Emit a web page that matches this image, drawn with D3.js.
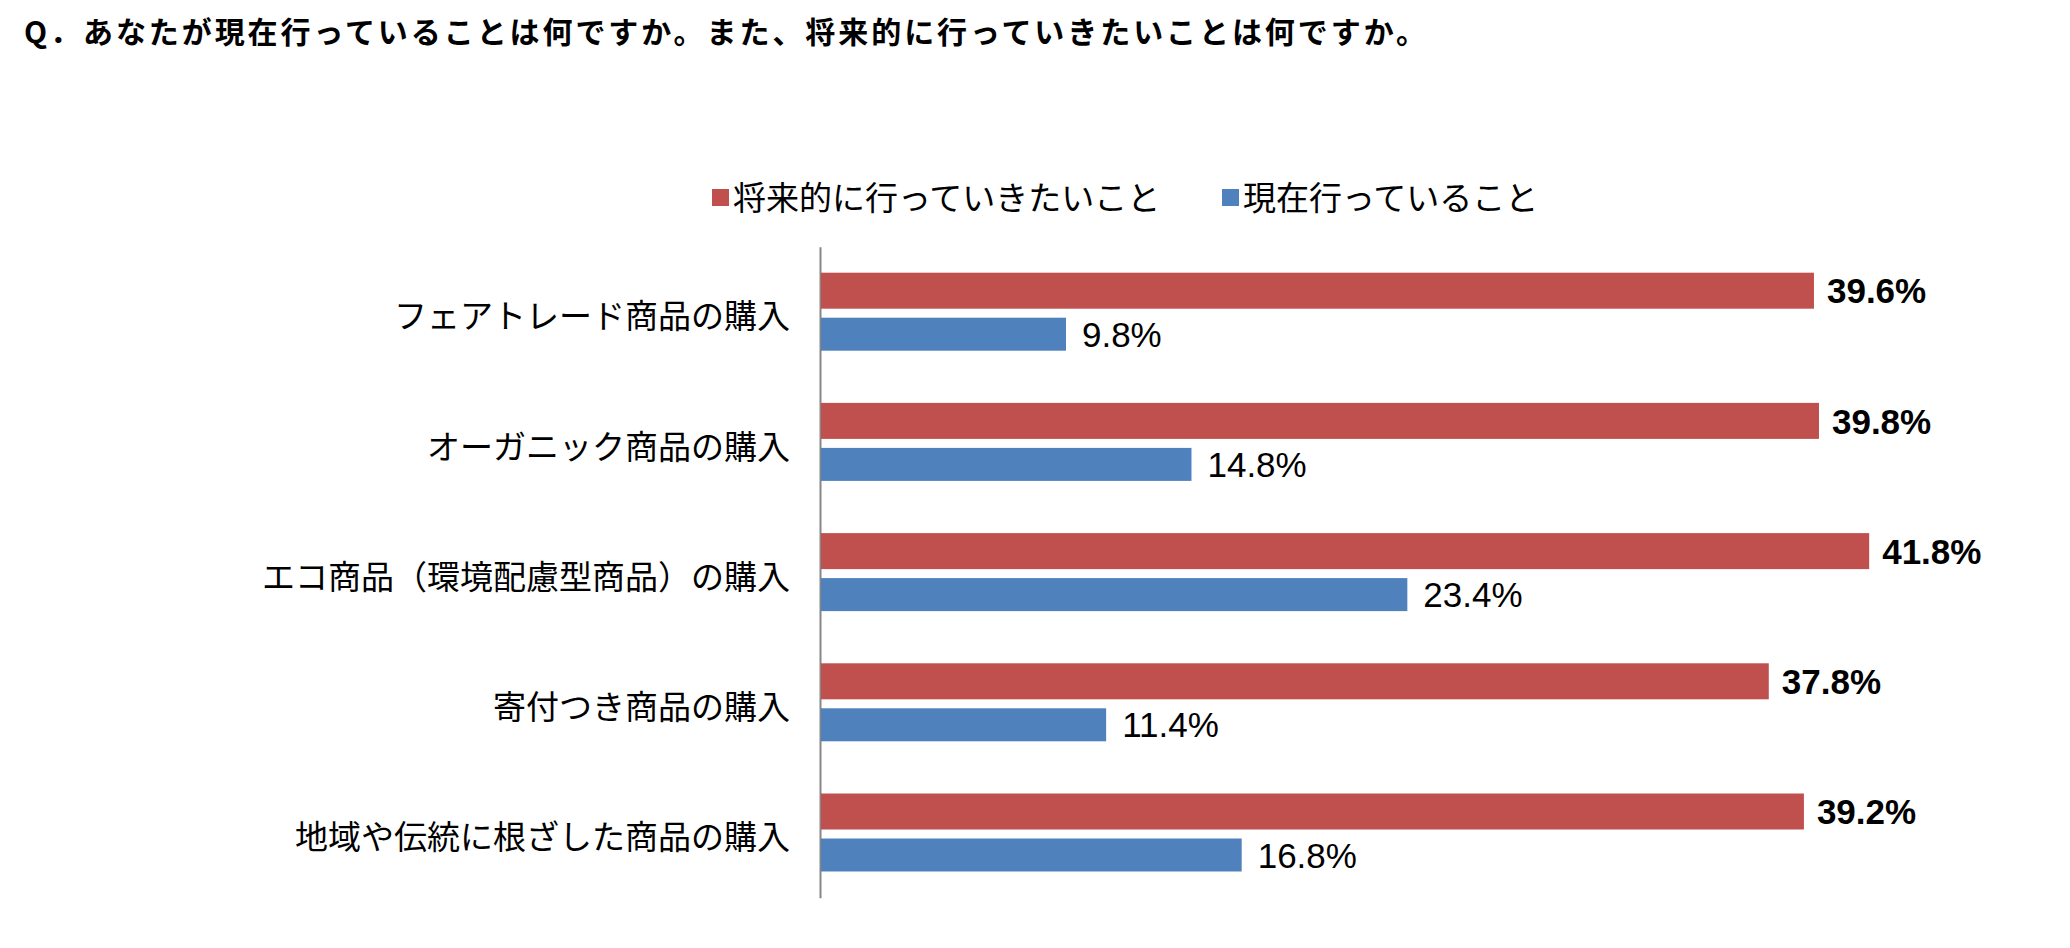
<!DOCTYPE html>
<html>
<head>
<meta charset="utf-8">
<script src="https://d3js.org/d3.v7.min.js"></script>
<style>
  body { margin: 0; background: #fff; }
  .jp { font-family: "Noto Sans CJK JP", sans-serif; }
  .num { font-family: "Liberation Sans", Arial, sans-serif; }
</style>
</head>
<body>
<div id="chart"></div>
<script>
var title = "Q．あなたが現在行っていることは何ですか。また、将来的に行っていきたいことは何ですか。";
var categories = ["フェアトレード商品の購入", "オーガニック商品の購入", "エコ商品（環境配慮型商品）の購入", "寄付つき商品の購入", "地域や伝統に根ざした商品の購入"];
var seriesNames = ["将来的に行っていきたいこと", "現在行っていること"];
var future = [39.6, 39.8, 41.8, 37.8, 39.2];
var current = [9.8, 14.8, 23.4, 11.4, 16.8];
var colors = ["#C0504D", "#4F81BD"];

var width = 2070, height = 948;

var svg = d3.select("#chart")
    .append("svg")
    .attr("width", width)
    .attr("height", height);

// title
svg.append("text")
    .attr("class", "jp")
    .attr("x", 24)
    .attr("y", 43)
    .attr("textLength", 1402)
    .attr("lengthAdjust", "spacing")
    .style("font-size", "30px")
    .style("font-weight", "bold")
    .text(title);

var x = d3.scaleLinear()
    .domain([0, 50])
    .range([820, 820 + 25.1 * 50]);

var y = d3.scaleBand()
    .domain(categories)
    .range([246.7, 897.7]);

// category axis
var axis = svg.append("g")
    .attr("transform", "translate(" + x(0) + ",0)")
    .call(d3.axisLeft(y).tickSize(0).tickPadding(30));

axis.select(".domain")
    .attr("stroke", "#868686")
    .attr("stroke-width", 2);

axis.selectAll("text")
    .attr("class", "jp")
    .attr("dy", "0.5em")
    .style("font-size", "33px")
    .attr("fill", "#000");

var rows = categories.map(function (c, i) {
    return { cat: c, future: future[i], current: current[i] };
});

// future bars
svg.selectAll(".bar-future")
    .data(rows)
    .enter().append("rect")
    .attr("class", "bar-future")
    .attr("x", x(0) + 1)
    .attr("y", function (d) { return y(d.cat) + 26; })
    .attr("width", function (d) { return x(d.future) - x(0) - 1; })
    .attr("height", 36)
    .attr("fill", colors[0]);

// current bars
svg.selectAll(".bar-current")
    .data(rows)
    .enter().append("rect")
    .attr("class", "bar-current")
    .attr("x", x(0) + 1)
    .attr("y", function (d) { return y(d.cat) + 71; })
    .attr("width", function (d) { return x(d.current) - x(0) - 1; })
    .attr("height", 33)
    .attr("fill", colors[1]);

// value labels
svg.selectAll(".lbl-future")
    .data(rows)
    .enter().append("text")
    .attr("class", "num")
    .attr("x", function (d) { return x(d.future) + 13; })
    .attr("y", function (d) { return y(d.cat) + 26 + 18; })
    .attr("dy", "0.36em")
    .style("font-size", "35px")
    .style("font-weight", "bold")
    .text(function (d) { return d.future.toFixed(1) + "%"; });

svg.selectAll(".lbl-current")
    .data(rows)
    .enter().append("text")
    .attr("class", "num")
    .attr("x", function (d) { return x(d.current) + 16; })
    .attr("y", function (d) { return y(d.cat) + 71 + 16.5; })
    .attr("dy", "0.36em")
    .style("font-size", "35px")
    .text(function (d) { return d.current.toFixed(1) + "%"; });

// legend
var legendX = [712, 1222];
var legend = svg.selectAll(".legend")
    .data(seriesNames)
    .enter().append("g")
    .attr("class", "legend")
    .attr("transform", function (d, i) { return "translate(" + legendX[i] + ",189)"; });

legend.append("rect")
    .attr("width", 17)
    .attr("height", 17)
    .attr("fill", function (d, i) { return colors[i]; });

legend.append("text")
    .attr("class", "jp")
    .attr("x", 21)
    .attr("y", 21)
    .style("font-size", "33px")
    .text(function (d) { return d; });
</script>
</body>
</html>
